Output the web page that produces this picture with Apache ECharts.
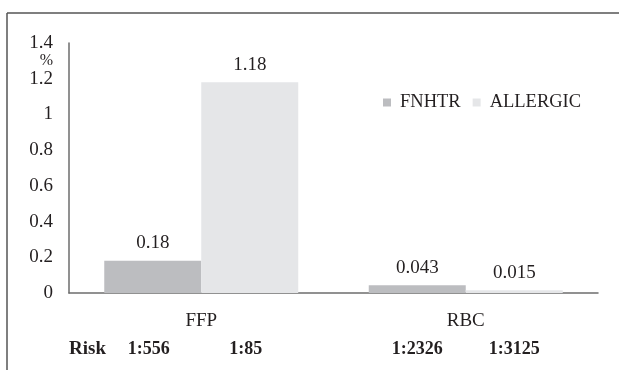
<!DOCTYPE html>
<html>
<head>
<meta charset="utf-8">
<script src="https://cdn.jsdelivr.net/npm/echarts@6/dist/echarts.min.js"></script>
<style>
html,body{margin:0;padding:0;background:#fff;}
#chart{width:619px;height:370px;}
</style>
</head>
<body>
<div id="chart"></div>
<script>
var categories = ['FFP', 'RBC'];
var seriesNames = ['FNHTR', 'ALLERGIC'];
var fnhtrValues = [0.18, 0.043];
var allergicValues = [1.18, 0.015];
var fnhtrLabels = ['0.18', '0.043'];
var allergicLabels = ['1.18', '0.015'];
var riskTitle = 'Risk';
var fnhtrRisk = ['1:556', '1:2326'];
var allergicRisk = ['1:85', '1:3125'];
var yTicks = {min: 0, max: 1.4, interval: 0.2};
var yUnit = '%';

var FONT = '"Liberation Serif", "DejaVu Serif", serif';
var TEXT = '#231f20';
var BAR_W = 97;

var chart = echarts.init(document.getElementById('chart'), null, {renderer: 'canvas'});

function labelFmt(arr) {
  return function (p) { return arr[p.dataIndex]; };
}

var option = {
  animation: false,
  backgroundColor: '#fff',
  textStyle: {fontFamily: FONT, color: TEXT},
  grid: {left: 69, right: 21, top: 43, bottom: 77, containLabel: false},
  legend: {
    data: seriesNames,
    left: 378,
    top: 88,
    itemWidth: 8,
    itemHeight: 8,
    itemGap: 12,
    icon: 'rect',
    textStyle: {fontFamily: FONT, fontSize: 18.5, color: TEXT, padding: [0, 0, 0, 4]}
  },
  xAxis: {
    type: 'category',
    data: categories,
    axisLine: {show: true, lineStyle: {color: '#6d6d6d', width: 1.5}},
    axisTick: {show: false},
    axisLabel: {fontFamily: FONT, fontSize: 19, color: TEXT, margin: 19}
  },
  yAxis: {
    type: 'value',
    min: yTicks.min,
    max: yTicks.max,
    interval: yTicks.interval,
    name: yUnit,
    nameLocation: 'end',
    nameGap: -18,
    nameTextStyle: {fontFamily: FONT, fontSize: 16, color: TEXT, align: 'right', verticalAlign: 'middle', padding: [0, 16, 0, 0]},
    axisLine: {show: true, lineStyle: {color: '#6d6d6d', width: 1.5}},
    axisTick: {show: false},
    splitLine: {show: false},
    axisLabel: {fontFamily: FONT, fontSize: 19, color: TEXT, margin: 16}
  },
  series: [
    {
      name: seriesNames[0],
      type: 'bar',
      data: fnhtrValues,
      barWidth: BAR_W,
      barGap: '0%',
      itemStyle: {color: '#bcbdc0'},
      label: {show: true, position: 'top', distance: 8, formatter: labelFmt(fnhtrLabels), fontFamily: FONT, fontSize: 19, color: TEXT}
    },
    {
      name: seriesNames[1],
      type: 'bar',
      data: allergicValues,
      barWidth: BAR_W,
      barGap: '0%',
      itemStyle: {color: '#e5e6e8'},
      label: {show: true, position: 'top', distance: 8, formatter: labelFmt(allergicLabels), fontFamily: FONT, fontSize: 19, color: TEXT}
    }
  ]
};
chart.setOption(option);

// Frame lines and risk row positioned from the chart's own scales
var grid0 = chart.getModel().getComponent('grid', 0).coordinateSystem.getRect();
var riskY = grid0.y + grid0.height + 56;
var graphics = [
  {type: 'line', shape: {x1: 7, y1: 13, x2: 619, y2: 13}, style: {stroke: '#555', lineWidth: 1.5}},
  {type: 'line', shape: {x1: 7, y1: 13, x2: 7, y2: 370}, style: {stroke: '#555', lineWidth: 1.5}},
  {type: 'text', x: grid0.x, y: riskY, style: {text: riskTitle, fontFamily: FONT, fontSize: 19, fontWeight: 'bold', fill: TEXT, align: 'left', verticalAlign: 'middle'}}
];
categories.forEach(function (c, i) {
  var cx = chart.convertToPixel({xAxisIndex: 0}, c);
  graphics.push({type: 'text', x: cx - BAR_W / 2 - (i === 0 ? 4 : 0), y: riskY,
    style: {text: fnhtrRisk[i], fontFamily: FONT, fontSize: 18, fontWeight: 'bold', fill: TEXT, align: 'center', verticalAlign: 'middle'}});
  graphics.push({type: 'text', x: cx + BAR_W / 2 - (i === 0 ? 4 : 0), y: riskY,
    style: {text: allergicRisk[i], fontFamily: FONT, fontSize: 18, fontWeight: 'bold', fill: TEXT, align: 'center', verticalAlign: 'middle'}});
});
chart.setOption({graphic: graphics});
</script>
</body>
</html>
